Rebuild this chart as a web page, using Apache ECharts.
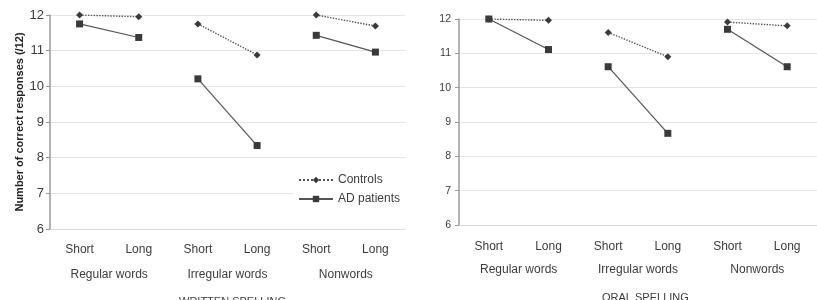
<!DOCTYPE html>
<html>
<head>
<meta charset="utf-8">
<script src="https://cdn.jsdelivr.net/npm/echarts@6/dist/echarts.min.js"></script>
<style>
html,body{margin:0;padding:0;background:#fff;}
#main{width:817px;height:300px;}
</style>
</head>
<body>
<div id="main"></div>
<script>
var lengthLabels = ['Short','Long','Short','Long','Short','Long'];
var wordGroups = ['Regular words','Irregular words','Nonwords'];
var yTicks = [6,7,8,9,10,11,12];

var writtenControls = [12.0, 11.95, 11.75, 10.88, 12.0, 11.69];
var writtenPatients = [11.75, 11.37, 10.21, 8.34, 11.43, 10.96];
var oralControls = [12.0, 11.96, 11.61, 10.9, 11.91, 11.8];
var oralPatients = [12.0, 11.11, 10.61, 8.67, 11.7, 10.61];

var font = 'Liberation Sans, Arial, sans-serif';
var textColor = '#3c3c3c';

// one series per word group so the lines break between groups
function pairSeries(name, values, gridIdx, dotted){
    var list = [];
    for(var g=0;g<wordGroups.length;g++){
        var d = [];
        for(var i=0;i<values.length;i++){
            d.push((i == 2*g || i == 2*g+1) ? values[i] : '-');
        }
        list.push({
            name:name,
            type:'line',
            xAxisIndex:gridIdx*2,
            yAxisIndex:gridIdx,
            data:d,
            symbol: dotted ? 'diamond' : 'rect',
            symbolSize:7,
            connectNulls:false,
            lineStyle:{color:'#555',width: dotted ? 1.4 : 1.2,type: dotted ? 'dotted' : 'solid'},
            itemStyle:{color:'#3a3a3a'},
            z:5
        });
    }
    return list;
}

function xAxes(gridIdx, labelMargin, offset){
    return [{
        type:'category',
        gridIndex:gridIdx,
        data:lengthLabels,
        boundaryGap:true,
        axisLine:{show:true,lineStyle:{color:'#d8d8d8',width:1}},
        axisTick:{show:false},
        axisLabel:{margin:labelMargin,fontSize:12,fontFamily:font,color:textColor,interval:0}
    },{
        type:'category',
        gridIndex:gridIdx,
        position:'bottom',
        offset:offset,
        data:wordGroups,
        axisLine:{show:false},
        axisTick:{show:false},
        axisLabel:{margin:labelMargin,fontSize:12,fontFamily:font,color:textColor,interval:0}
    }];
}

function yAxis(gridIdx, fs, margin, name){
    return {
        type:'value',
        gridIndex:gridIdx,
        min:yTicks[0],
        max:yTicks[yTicks.length-1],
        interval:1,
        name:name || '',
        nameLocation:'middle',
        nameGap:25,
        nameRotate:90,
        nameTextStyle:{fontSize:11,fontWeight:'bold',fontFamily:font,color:'#222'},
        axisLine:{show:true,lineStyle:{color:'#9a9a9a',width:1.5}},
        axisTick:{show:true,length:4,lineStyle:{color:'#9a9a9a'}},
        axisLabel:{margin:margin,fontSize:fs,fontFamily:font,color:textColor},
        splitLine:{show:true,lineStyle:{color:'#e4e4e4',width:1}}
    };
}

var myChart = echarts.init(document.getElementById('main'));
var option = {
    animation:false,
    backgroundColor:'#fff',
    grid:[
        {left:50,top:15,width:355,height:214},
        {left:459,top:19,width:368,height:206}
    ],
    title:[
        {text:'WRITTEN SPELLING',left:174,top:291,textStyle:{fontSize:11,fontWeight:'normal',fontFamily:font,color:textColor}},
        {text:'ORAL SPELLING',left:597,top:287,textStyle:{fontSize:11,fontWeight:'normal',fontFamily:font,color:textColor}}
    ],
    legend:{
        data:['Controls','AD patients'],
        orient:'vertical',
        left:293,
        top:168,
        padding:[6,8,6,5],
        itemWidth:34,
        itemHeight:8,
        itemGap:7,
        backgroundColor:'#fff',
        textStyle:{fontSize:12,fontFamily:font,color:textColor}
    },
    xAxis:xAxes(0,15,25).concat(xAxes(1,16,23)),
    yAxis:[
        yAxis(0,13,6,'Number of correct responses (/12)'),
        yAxis(1,10.5,8)
    ],
    series:[]
};
option.series = option.series
    .concat(pairSeries('Controls',writtenControls,0,true))
    .concat(pairSeries('AD patients',writtenPatients,0,false))
    .concat(pairSeries('Controls',oralControls,1,true))
    .concat(pairSeries('AD patients',oralPatients,1,false));
myChart.setOption(option);
</script>
</body>
</html>
